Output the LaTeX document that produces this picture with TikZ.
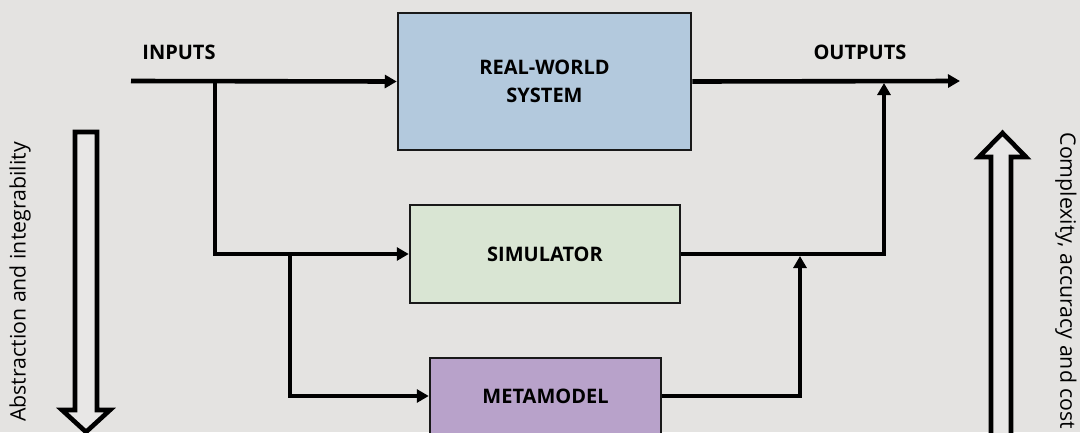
\documentclass[tikz,border=0pt]{standalone}
\usepackage{fontspec}
\setmainfont{Open Sans}
\usetikzlibrary{arrows.meta}
\definecolor{bgcol}{HTML}{E4E3E1}
\definecolor{realcol}{HTML}{B3C9DD}
\definecolor{simcol}{HTML}{D9E5D3}
\definecolor{metacol}{HTML}{B8A2CA}
\tikzset{
  block/.style={draw=black!90, line width=2.5pt, font=\fontsize{20}{28.5}\selectfont\bfseries,
    align=center, inner sep=0pt},
  flow/.style={line width=4.6pt, -{Triangle[length=12pt,width=13pt]}},
  caption/.style={font=\fontsize{20}{28}\selectfont\bfseries},
  hollow/.style={draw=black, line width=4.6pt, fill=bgcol!85!white, line join=miter},
  sidetext/.style={font=\fontsize{21.3}{25}\selectfont},
}
\begin{document}
\begin{tikzpicture}[x=1pt, y=-1pt]
  \fill[bgcol] (0,0) rectangle (1080,432);
  \useasboundingbox (0,0) rectangle (1080,432);

  % blocks
  \node[block, fill=realcol, minimum width=293pt, minimum height=137pt] (real) at (544.5,81.5) {REAL-WORLD\\SYSTEM};
  \node[block, fill=simcol, minimum width=270pt, minimum height=98pt] (sim) at (545,254) {SIMULATOR};
  \node[block, fill=metacol, minimum width=231pt, minimum height=76pt] (meta) at (545.5,396) {METAMODEL};

  % labels
  \node[caption] (inlab) at (179,52) {INPUTS};
  \node[caption] (outlab) at (860,52) {OUTPUTS};

  % input side
  \coordinate (in) at (131,81);
  \coordinate (b1) at (215,81);
  \coordinate (b2) at (290,254);
  \draw[flow] (in) -- (real.west);
  \draw[flow] (b1) |- (sim.west);
  \draw[flow] (b2) |- (meta.west);

  % output side
  \coordinate (out) at (960,81);
  \coordinate (j1) at (884,83);
  \coordinate (j2) at (800,256);
  \draw[flow] (real.east) -- (out);
  \draw[flow] (sim.east) -| (j1);
  \draw[flow] (meta.east) -| (j2);

  % side arrows
  \draw[hollow] (75,132) -- (97,132) -- (97,410) -- (110,410) -- (86,432) -- (62,410) -- (75,410) -- cycle;
  \draw[hollow] (991,445) -- (991,157) -- (979,157) -- (1002.5,133) -- (1026,157) -- (1011,157) -- (1011,445) -- cycle;

  \node[sidetext, rotate=90] (lefttxt) at (20,282) {Abstraction and integrability};
  \node[sidetext, rotate=-90] (righttxt) at (1066,281) {Complexity, accuracy and cost};
\end{tikzpicture}
\end{document}
